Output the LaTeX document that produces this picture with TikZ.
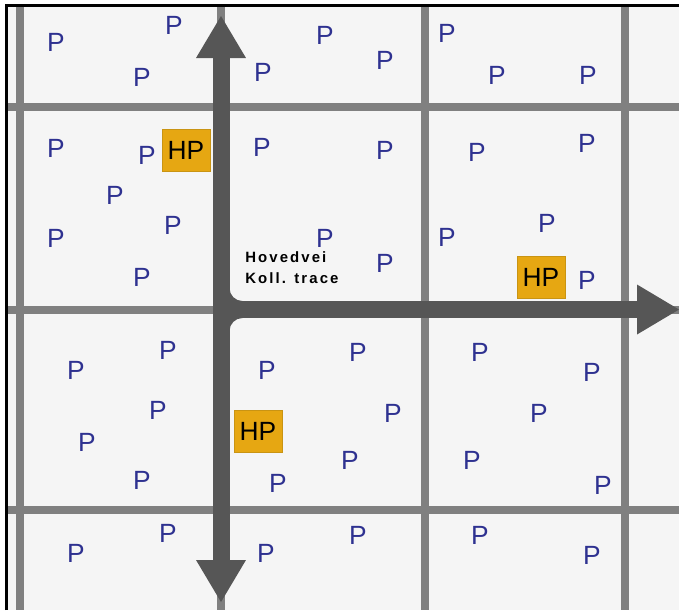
\documentclass[tikz,border=0pt]{standalone}
\usepackage{fontspec}
\setmainfont{Liberation Sans}
\usetikzlibrary{arrows.meta}
\definecolor{paper}{HTML}{F5F5F5}
\definecolor{street}{HTML}{808080}
\definecolor{road}{HTML}{565656}
\definecolor{pblue}{HTML}{2E3190}
\definecolor{hpfill}{HTML}{E6A712}
\definecolor{hpedge}{HTML}{C99413}
\tikzset{
  street/.style={draw=street, line width=0.16cm},
  road/.style={draw=road, line width=0.34cm},
  roadtip/.tip={Triangle[length=0.84cm, width=1.0cm, line width=0pt]},
  park/.style={
    text=pblue,
    font=\fontsize{15}{18}\selectfont,
    inner sep=0pt
  },
  hub/.style={
    fill=hpfill,
    draw=hpedge,
    line width=0.4pt,
    text=black,
    font=\fontsize{15}{18}\selectfont,
    minimum width=0.96cm,
    minimum height=0.84cm,
    inner sep=0pt
  },
  tag/.style={
    font={\fontsize{8.5}{11.9}\selectfont\bfseries\addfontfeatures{LetterSpace=14}},
    align=left,
    inner sep=0pt,
    anchor=north west
  }
}
\begin{document}
\begin{tikzpicture}[x=0.02cm, y=-0.02cm]
  \useasboundingbox (0,0) rectangle (679,610);
  \fill[paper] (6,5) rectangle (679,610);

  % street grid
  \foreach \x in {20,221,425,625}
    \draw[street] (\x,5) -- (\x,610);
  \foreach \y in {107,309.5,510}
    \draw[street] (6,\y) -- (679,\y);
  \draw[black, line width=0.06cm] (6.5,610) -- (6.5,5) -- (679,5);

  % main road
  \coordinate (jct) at (221,309.5);
  \coordinate (nord) at (221,16);
  \coordinate (sor) at (221,602);
  \coordinate (ost) at (679,309.5);
  \draw[road, roadtip-roadtip] (nord) -- (sor);
  \draw[road, -roadtip] (jct) -- (ost);
  % rounded inner corners
  \fill[fill=road] (228,288) -- (228,302) -- (242.5,302) -- (242.5,301)
    .. controls (235.3,301) and (229.5,295.2) .. (229.5,288) -- cycle;
  \fill[fill=road] (228,331) -- (228,317) -- (242.5,317) -- (242.5,318)
    .. controls (235.3,318) and (229.5,323.8) .. (229.5,331) -- cycle;

  \node[tag] (lbl) at (245,251) {Hovedvei\\Koll. trace};

  % parking spots
  \foreach \x/\y [count=\i] in {56/42, 174/25, 142/77, 325/35, 263/72,
      385/60, 447/33, 497/75, 588/75,
      56/148, 147/155, 262/147, 115/195, 173/225, 56/238, 142/277, 325/238,
      385/150, 477/152, 587/143, 547/223, 447/237, 385/263, 587/280,
      76/370, 168/350, 267/370, 158/410, 87/442, 142/480, 278/483,
      358/352, 393/413, 350/460, 480/352, 592/372, 539/413, 472/460, 603/485,
      76/553, 168/533, 266/553, 358/535, 480/535, 592/555}
    \node[park] (p\i) at (\x,\y) {P};

  \node[hub] (hp1) at (186,150) {HP};
  \node[hub] (hp2) at (541,277) {HP};
  \node[hub] (hp3) at (258,431) {HP};
\end{tikzpicture}
\end{document}
